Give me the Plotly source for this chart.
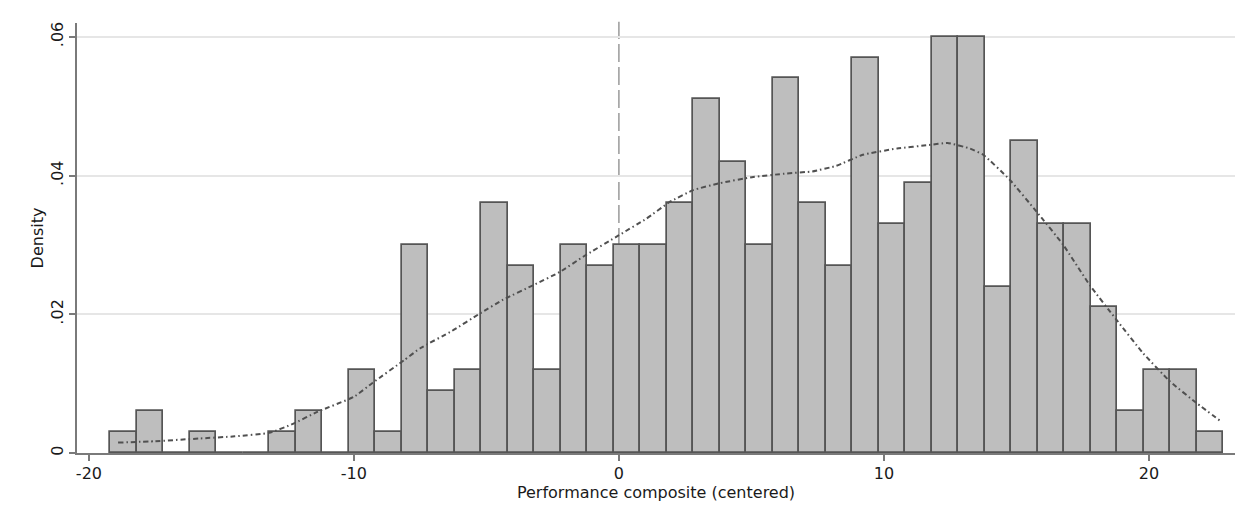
import plotly.graph_objects as go

# Histogram bins (left edge of first bin, width) and densities
bin_start = -19.2
bin_width = 1.0
densities = [0.003, 0.006, 0.0, 0.003, 0.0, 0.0, 0.003, 0.006, 0.0, 0.012,
             0.003, 0.030, 0.009, 0.012, 0.036, 0.027, 0.012, 0.030, 0.027, 0.030,
             0.030, 0.036, 0.051, 0.042, 0.030, 0.054, 0.036, 0.027, 0.057, 0.033,
             0.039, 0.060, 0.060, 0.024, 0.045, 0.033, 0.033, 0.021, 0.006, 0.012,
             0.012, 0.003]
bin_centers = [bin_start + bin_width * (i + 0.5) for i in range(len(densities))]

# Kernel density estimate
kde_x = [-18.9, -17.5, -15.8, -14.5, -13.2, -12.3, -11.4, -10.0, -9.3, -8.1, -7.5,
         -6.3, -5.25, -4.37, -3.23, -2.23, -1.35, 0.0, 1.04, 1.92, 2.8, 3.8, 5.07,
         6.33, 7.3, 8.2, 9.2, 10.5, 11.7, 12.4, 13.25, 13.75, 14.75, 15.76, 16.77,
         17.77, 18.78, 19.78, 20.8, 21.8, 22.74]
kde_y = [0.0015, 0.0017, 0.0021, 0.0024, 0.0029, 0.0042, 0.0059, 0.0081, 0.0101, 0.0134, 0.0151,
         0.0176, 0.0201, 0.0221, 0.0242, 0.0261, 0.0283, 0.0314, 0.0338, 0.0362, 0.0379, 0.0389, 0.0398,
         0.0403, 0.0406, 0.0414, 0.0430, 0.0439, 0.0444, 0.0447, 0.0439, 0.0430, 0.0394, 0.0348, 0.0300,
         0.0242, 0.0192, 0.0144, 0.0103, 0.0072, 0.0045]

x_ticks = [-20, -10, 0, 10, 20]
y_ticks = [0, 0.02, 0.04, 0.06]
y_tick_labels = ["0", ".02", ".04", ".06"]
ref_x = 0

FONT = "DejaVu Sans"

fig = go.Figure()
fig.add_trace(go.Bar(
    x=bin_centers, y=densities, width=bin_width,
    marker=dict(color="#bebebe", line=dict(color="#555555", width=1.7)),
    showlegend=False, hoverinfo="skip",
))
fig.add_trace(go.Scatter(
    x=kde_x, y=kde_y, mode="lines",
    line=dict(color="#505050", width=2, dash="5px,3px,1.5px,3px", shape="spline", smoothing=0.4),
    showlegend=False, hoverinfo="skip",
))
fig.add_shape(type="line", xref="x", yref="paper", x0=ref_x, x1=ref_x, y0=0, y1=1.003,
              line=dict(color="#9a9a9a", width=1.5, dash="18px,5px"), layer="between")

# page body adds an 8px margin, so the figure is 8px smaller than the window
fig.update_layout(
    width=1243, height=514,
    margin=dict(l=69, r=16, t=15, b=69),
    paper_bgcolor="white", plot_bgcolor="white",
    font=dict(family=FONT, size=16, color="#1a1a1a"),
    bargap=0,
    xaxis=dict(
        range=[-20.45, 23.25], tickvals=x_ticks, ticktext=[str(v) for v in x_ticks],
        showgrid=False, zeroline=False, automargin=False,
        showline=True, linecolor="#7a7a7a", linewidth=2,
        ticks="outside", ticklen=6, tickcolor="#7a7a7a", tickwidth=1.5,
        ticklabelstandoff=-1,
        title=dict(text="Performance composite (centered)", font=dict(size=16), standoff=4),
        tickfont=dict(size=16),
    ),
    yaxis=dict(
        range=[0, 0.062], tickvals=y_ticks, ticktext=y_tick_labels, tickangle=-90,
        showgrid=True, gridcolor="#e6e6e6", gridwidth=1.5, zeroline=False, automargin=False,
        showline=True, linecolor="#7a7a7a", linewidth=2,
        ticks="outside", ticklen=6, tickcolor="#7a7a7a", tickwidth=1.5,
        title=dict(text="Density", font=dict(size=16), standoff=0),
        tickfont=dict(size=16),
    ),
)

fig.write_html("out.html")
